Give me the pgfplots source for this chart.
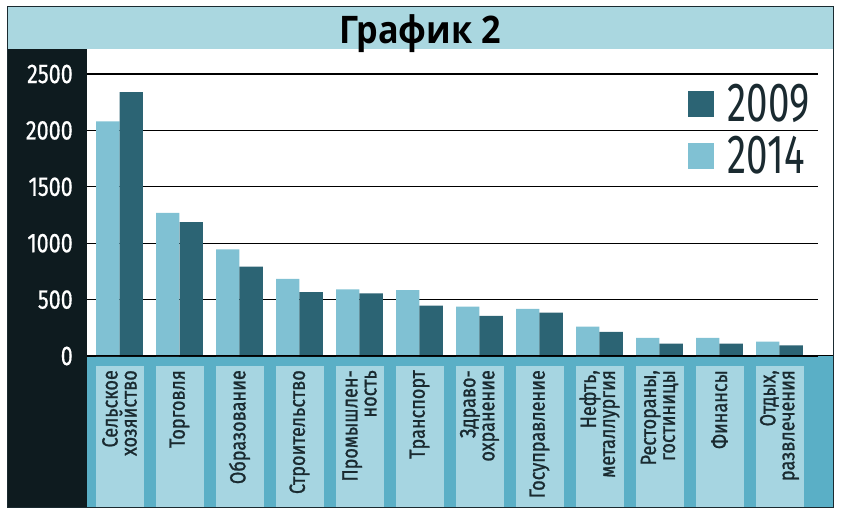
\documentclass[border=0pt]{standalone}
\usepackage{fontspec}
\usepackage{pgfplots}
\pgfplotsset{compat=1.18}
\newfontfamily\condfont[FakeStretch=0.8, FakeBold=0.6]{Fira Sans}
\newfontfamily\labfont[FakeStretch=0.82, FakeBold=1.0]{Fira Sans}
\newfontfamily\legfont[FakeStretch=0.7]{Fira Sans}
\newfontfamily\titlefont[FakeStretch=0.9]{Open Sans}
\definecolor{titlebg}{HTML}{AAD7E0}
\definecolor{panel}{HTML}{0E1B1F}
\definecolor{lightbar}{HTML}{80C1D3}
\definecolor{darkbar}{HTML}{2C6474}
\definecolor{tealbg}{HTML}{5AAFC6}
\definecolor{boxc}{HTML}{A6D5E1}
\definecolor{framec}{HTML}{1A2A30}
\begin{document}
\begin{tikzpicture}
\useasboundingbox (0pt,0pt) rectangle (841pt,517pt);
\fill[titlebg] (7pt,468pt) rectangle (833pt,510pt);
\fill[panel] (7pt,10pt) rectangle (87pt,468pt);
\fill[tealbg] (87pt,10pt) rectangle (833pt,161pt);
\foreach \i in {0,...,11} {\fill[boxc] ({(95.5+60*\i)*1pt},10pt) rectangle ({(143.5+60*\i)*1pt},151pt);}
\node[anchor=base, inner sep=0pt, font=\titlefont\bfseries\fontsize{38}{38}\selectfont] at (420pt,473pt) {График 2};
\begin{axis}[
  at={(87pt,161pt)}, anchor=south west,
  width=731pt, height=307pt, scale only axis,
  xmin=-0.5417, xmax=11.642, ymin=0, ymax=2722,
  ybar=0pt, bar width=0.39,
  axis line style={draw=none},
  major tick length=0pt,
  ytick={0,500,1000,1500,2000,2500},
  yticklabels={0,500,1000,1500,2000,2500},
  ymajorgrids, grid style={black, line width=1.1pt},
  yticklabel style={white, anchor=east, inner sep=0pt, xshift=-14pt, font=\condfont\fontsize{27}{27}\selectfont},
  xtick={0,...,11},
  xticklabels={{Сельское\\хозяйство},{Торговля},{Образование},{Строительство},{Промышлен-\\ность},{Транспорт},{Здраво-\\охранение},{Госуправление},{Нефть,\\металлургия},{Рестораны,\\гостиницы},{Финансы},{Отдых,\\развлечения}},
  xticklabel style={yshift=-14pt, rotate=90, anchor=east, align=right, inner sep=0pt, text=framec, font=\labfont\fontsize{22}{19}\selectfont},
  legend style={at={(rel axis cs:0.989,0.885)}, anchor=north east, draw=none, fill=none, font=\legfont\fontsize{55}{55}\selectfont, inner sep=0pt, row sep=13pt, column sep=14pt, nodes={inner sep=0pt, text=framec}},
  legend cell align=left,
  reverse legend,
  every axis plot post/.append style={legend image code/.code={\fill[##1] (0pt,-13pt) rectangle (26pt,13pt);}},
]
\addplot[fill=lightbar, draw=none] coordinates {(0,2080) (1,1270) (2,945) (3,683) (4,590) (5,585) (6,437) (7,417) (8,260) (9,160) (10,160) (11,127)};
\addlegendentry{2014}
\addplot[fill=darkbar, draw=none] coordinates {(0,2340) (1,1188) (2,792) (3,567) (4,556) (5,446) (6,355) (7,384) (8,213) (9,109) (10,109) (11,95)};
\addlegendentry{2009}
\end{axis}
\draw[black, line width=1pt] (87pt,161pt) -- (833pt,161pt);
\draw[framec, line width=1pt] (7pt,10pt) rectangle (833pt,510pt);
\end{tikzpicture}
\end{document}
